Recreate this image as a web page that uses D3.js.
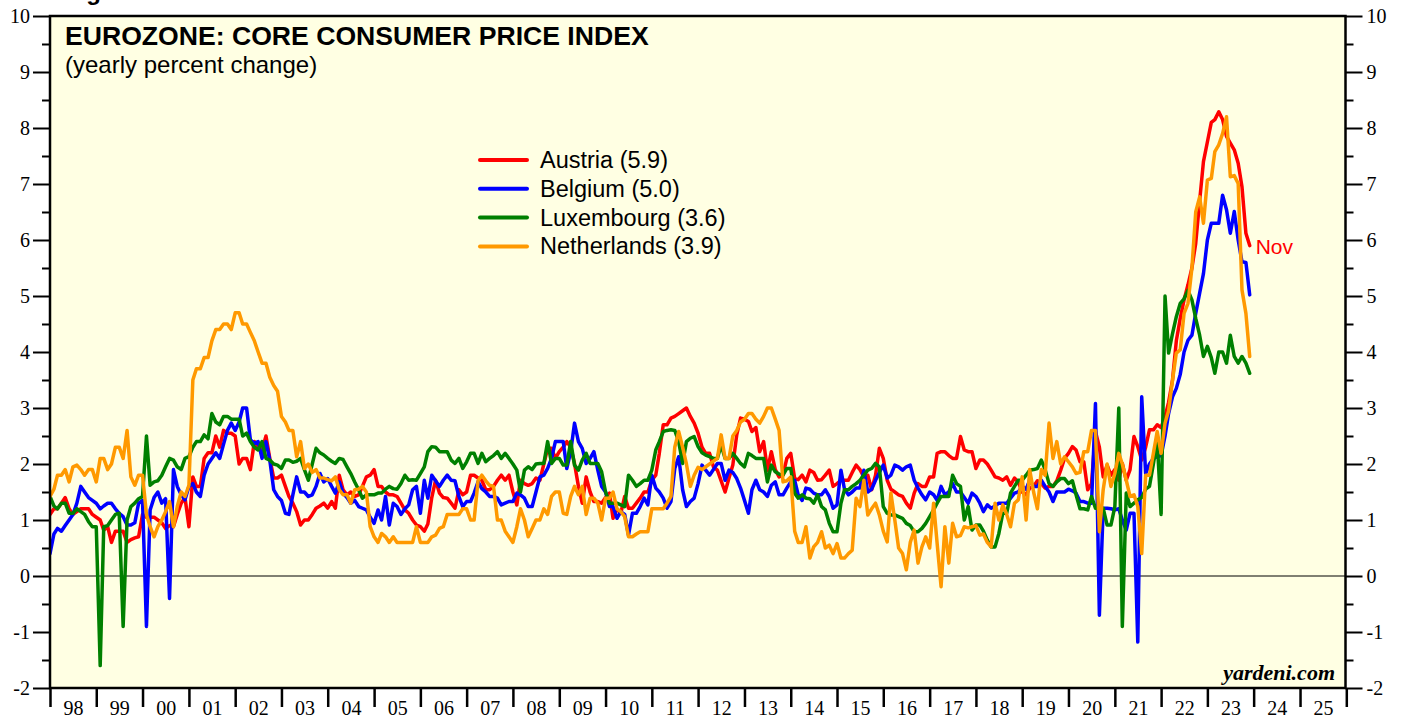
<!DOCTYPE html>
<html>
<head>
<meta charset="utf-8">
<script src="https://cdnjs.cloudflare.com/ajax/libs/d3/7.8.5/d3.min.js"></script>
<style>
    html, body { margin: 0; padding: 0; background: #fff; }
    svg { display: block; }
</style>
</head>
<body>
<svg id="chart" width="1405" height="719"></svg>
<script>
"use strict";

/* yearly percent change, monthly, Dec 1997 .. Nov 2023 (12 values per row) */
const austria = [
    1.1, 1.2, 1.2, 1.3, 1.4, 1.2, 1.1, 1.15, 1.2, 1.2, 1.2, 1.1,
    1.05, 1.0, 0.82, 0.88, 0.6, 0.8, 0.8, 0.8, 0.6, 0.65, 0.68, 0.7,
    1.1, 1.05, 1.05, 1.05, 1.0, 0.95, 0.85, 0.9, 0.88, 1.1, 1.3, 1.4,
    0.88, 1.77, 1.6, 1.6, 2.1, 2.2, 2.2, 2.5, 2.3, 2.6, 2.55, 2.55,
    2.5, 2.0, 2.1, 2.1, 1.9, 2.4, 2.3, 2.25, 2.5, 2.1, 1.75, 1.75,
    1.8, 1.6, 1.42, 1.3, 1.15, 0.91, 1.0, 1.0, 1.1, 1.21, 1.25, 1.3,
    1.21, 1.33, 1.21, 1.8, 1.54, 1.45, 1.5, 1.42, 1.45, 1.6, 1.77, 1.8,
    1.9, 1.6, 1.6, 1.5, 1.45, 1.45, 1.42, 1.3, 1.18, 1.12, 1.0, 0.91,
    0.88, 0.8, 0.93, 1.4, 1.71, 1.48, 1.4, 1.39, 1.3, 1.21, 1.54, 1.45,
    1.5, 1.8, 1.8, 1.75, 1.71, 1.54, 1.54, 1.6, 1.71, 1.8, 1.71, 1.8,
    1.5, 1.27, 1.71, 1.65, 1.62, 1.65, 1.75, 1.71, 2.0, 2.28, 2.28, 2.1,
    2.22, 2.3, 2.4, 2.3, 2.01, 1.6, 1.3, 1.77, 1.5, 1.33, 1.33, 1.3,
    1.4, 1.48, 1.03, 1.2, 1.12, 1.42, 1.21, 1.21, 1.3, 1.39, 1.5, 1.5,
    1.71, 1.8, 2.19, 2.7, 2.7, 2.82, 2.85, 2.9, 2.95, 3.0, 2.85, 2.73,
    2.55, 2.3, 2.19, 2.19, 1.95, 1.89, 1.7, 1.5, 1.75, 1.98, 2.52, 2.82,
    2.8, 2.76, 2.58, 2.65, 2.22, 2.4, 1.89, 2.22, 1.9, 1.77, 1.8, 2.1,
    2.19, 1.74, 1.72, 1.8, 1.68, 1.89, 1.85, 1.71, 1.72, 1.8, 1.89, 1.6,
    1.65, 1.71, 1.71, 1.71, 1.85, 1.98, 1.9, 1.77, 1.8, 1.54, 1.8, 2.28,
    2.1, 1.71, 1.55, 1.5, 1.45, 1.42, 1.3, 1.21, 1.48, 1.65, 1.6, 1.6,
    1.77, 1.77, 2.19, 2.22, 2.22, 2.15, 2.1, 2.1, 2.49, 2.25, 2.22, 2.22,
    1.92, 2.07, 2.07, 2.0, 1.89, 1.77, 1.75, 1.71, 1.77, 1.62, 1.75, 1.68,
    1.5, 1.45, 1.57, 1.6, 1.7, 1.65, 1.57, 1.6, 1.6, 1.7, 1.89, 2.1,
    2.19, 2.31, 2.25, 2.04, 2.04, 1.54, 1.65, 2.58, 2.3, 1.77, 1.98, 1.8,
    1.9, 1.71, 2.01, 1.71, 1.9, 2.49, 2.31, 2.07, 2.3, 2.61, 2.61, 2.7,
    2.65, 2.85, 3.1, 3.5, 4.2, 4.6, 4.93, 5.2, 5.5, 5.94, 6.7, 7.4,
    7.75, 8.1, 8.15, 8.29, 8.15, 7.85, 7.73, 7.61, 7.37, 6.95, 6.12, 5.9
];

const belgium = [
    0.4, 0.75, 0.85, 0.8, 0.9, 1.0, 1.1, 1.3, 1.6, 1.5, 1.4, 1.35,
    1.3, 1.2, 1.25, 1.3, 1.3, 1.2, 1.12, 1.06, 0.91, 0.91, 0.95, 1.3,
    1.35, -0.9, 1.18, 1.4, 1.5, 1.3, 1.38, -0.4, 1.9, 1.6, 1.45, 1.36,
    1.6, 1.65, 1.5, 1.42, 1.8, 2.0, 2.1, 2.2, 2.1, 2.35, 2.6, 2.73,
    2.6, 2.75, 3.0, 3.0, 2.43, 2.37, 2.4, 2.1, 2.4, 2.07, 1.54, 1.42,
    1.35, 1.12, 1.1, 1.45, 1.77, 1.5, 1.5, 1.42, 1.45, 1.6, 1.83, 1.68,
    1.74, 1.6, 1.48, 1.68, 1.48, 1.4, 1.3, 1.35, 1.24, 1.21, 1.18, 1.05,
    0.94, 1.18, 1.0, 1.42, 0.91, 1.3, 1.24, 1.1, 1.2, 1.27, 1.54, 1.6,
    1.12, 1.71, 1.39, 1.8, 1.7, 1.6, 1.71, 1.8, 1.71, 1.7, 1.42, 1.24,
    1.33, 1.33, 1.48, 1.68, 1.56, 1.5, 1.42, 1.42, 1.39, 1.27, 1.3, 1.33,
    1.33, 1.48, 1.45, 1.39, 1.24, 1.24, 1.5, 1.77, 1.8, 1.92, 2.1, 2.4,
    2.4, 2.4, 1.92, 2.22, 2.73, 2.4, 2.28, 2.01, 2.1, 2.22, 1.89, 1.6,
    1.5, 1.24, 1.24, 1.03, 1.15, 1.1, 0.73, 1.12, 1.12, 1.24, 1.39, 1.27,
    1.8, 1.57, 1.5, 1.39, 1.21, 1.33, 1.92, 2.13, 1.54, 1.24, 1.33, 1.39,
    1.65, 1.98, 1.89, 1.8, 1.9, 2.01, 2.01, 1.71, 1.89, 1.85, 1.74, 1.57,
    1.35, 1.12, 1.54, 1.71, 1.54, 1.5, 1.42, 1.62, 1.68, 1.45, 1.45, 1.57,
    1.68, 1.71, 1.45, 1.35, 1.57, 1.55, 1.48, 1.45, 1.45, 1.54, 1.42, 1.21,
    1.27, 1.89, 1.55, 1.45, 1.5, 1.57, 1.57, 1.89, 1.5, 1.55, 1.71, 1.85,
    1.98, 1.75, 1.8, 1.98, 1.95, 1.89, 1.95, 1.98, 1.71, 1.57, 1.45, 1.36,
    1.5, 1.45, 1.35, 1.6, 1.45, 1.5, 1.65, 1.5, 1.5, 1.4, 1.3, 1.48,
    1.42, 1.3, 1.15, 1.27, 1.21, 1.25, 1.3, 1.3, 1.3, 1.39, 1.48, 1.5,
    1.6, 1.55, 1.71, 1.6, 1.6, 1.71, 1.6, 1.5, 1.33, 1.5, 1.5, 1.5,
    1.55, 1.52, 1.48, 1.33, 1.33, 1.3, 1.3, 3.08, -0.7, 1.21, 1.21, 1.2,
    1.18, 1.2, 1.0, 0.82, 1.12, 1.12, -1.18, 3.2, 1.83, 2.0, 2.1, 2.13,
    2.15, 2.5, 2.9, 3.2, 3.35, 3.6, 4.0, 4.21, 4.3, 4.69, 5.05, 5.4,
    6.0, 6.3, 6.3, 6.3, 6.8, 6.54, 6.12, 6.51, 6.0, 5.61, 5.6, 5.02
];

const luxembourg = [
    1.42, 1.25, 1.2, 1.3, 1.3, 1.12, 1.12, 1.2, 1.15, 1.1, 0.97, 0.88,
    0.88, -1.6, 0.88, 0.9, 1.0, 1.1, 1.12, -0.9, 1.0, 1.24, 1.3, 1.38,
    1.42, 2.5, 1.62, 1.68, 1.7, 1.8, 1.95, 2.1, 2.07, 1.95, 1.9, 2.1,
    2.13, 2.3, 2.4, 2.4, 2.52, 2.45, 2.9, 2.75, 2.7, 2.85, 2.85, 2.8,
    2.8, 2.8, 2.5, 2.55, 2.4, 2.3, 2.25, 2.4, 2.1, 2.07, 2.0, 1.98,
    1.92, 2.07, 2.07, 2.03, 2.05, 2.1, 1.9, 1.71, 2.0, 2.28, 2.2, 2.16,
    2.1, 2.05, 2.01, 2.1, 2.08, 1.95, 1.83, 1.68, 1.54, 1.39, 1.45, 1.45,
    1.45, 1.48, 1.48, 1.55, 1.6, 1.56, 1.55, 1.65, 1.8, 1.71, 1.72, 1.71,
    1.83, 1.95, 2.22, 2.31, 2.3, 2.22, 2.22, 2.22, 2.07, 2.01, 2.1, 1.92,
    2.04, 2.19, 2.19, 2.01, 2.19, 2.04, 2.1, 2.15, 2.22, 2.1, 2.19, 2.1,
    2.0, 1.89, 1.5, 1.89, 1.95, 1.9, 2.0, 2.01, 2.01, 2.4, 2.01, 2.1,
    2.1, 1.98, 1.98, 2.4, 1.98, 1.89, 2.07, 2.19, 2.01, 2.01, 2.01, 1.86,
    1.5, 1.3, 1.3, 1.3, 1.27, 1.24, 1.8, 1.71, 1.6, 1.65, 1.71, 1.71,
    1.89, 2.25, 2.4, 2.58, 2.6, 2.61, 2.6, 2.4, 2.01, 2.4, 2.46, 2.49,
    2.31, 2.2, 2.16, 2.13, 2.1, 2.1, 2.34, 2.1, 2.1, 2.19, 2.1, 2.01,
    1.95, 2.19, 2.15, 2.1, 2.1, 2.1, 1.68, 1.98, 1.86, 1.82, 1.8, 1.92,
    1.92, 1.48, 1.39, 1.45, 1.39, 1.38, 1.3, 1.45, 1.24, 1.18, 0.94, 0.79,
    0.79, 1.3, 1.54, 1.54, 1.6, 1.65, 1.71, 1.8, 1.89, 1.92, 2.01, 1.95,
    1.24, 1.12, 1.09, 1.09, 1.06, 1.03, 0.94, 0.9, 0.79, 0.79, 0.85, 0.94,
    1.06, 1.18, 1.3, 1.42, 1.42, 1.42, 1.8, 1.65, 1.6, 1.0, 1.24, 0.82,
    0.91, 0.91, 0.8, 0.64, 0.52, 0.52, 0.76, 1.12, 1.12, 1.48, 1.6, 1.71,
    1.71, 1.8, 1.89, 1.9, 1.92, 2.07, 1.9, 1.65, 1.6, 1.68, 1.74, 1.74,
    1.65, 1.7, 1.45, 1.2, 1.2, 1.18, 1.42, 1.21, 1.21, 1.21, 0.91, 0.91,
    1.24, 3.0, -0.9, 1.48, 1.24, 1.3, 1.36, 1.4, 1.55, 1.6, 2.0, 2.43,
    1.1, 5.0, 3.98, 4.33, 4.63, 4.87, 4.95, 5.1, 4.93, 4.6, 4.3, 3.92,
    4.1, 3.9, 3.62, 4.0, 4.0, 3.8, 4.3, 3.92, 3.8, 3.92, 3.8, 3.62
];

const netherlands = [
    1.42, 1.55, 1.8, 1.8, 1.9, 1.68, 1.95, 1.98, 1.9, 1.8, 1.9, 1.9,
    1.68, 2.1, 2.1, 1.9, 2.0, 2.3, 2.3, 2.1, 2.6, 1.77, 1.62, 1.8,
    1.8, 1.1, 0.88, 0.7, 0.88, 1.0, 1.15, 1.33, 0.88, 1.24, 1.5, 1.42,
    1.62, 3.5, 3.7, 3.7, 3.9, 3.9, 4.2, 4.4, 4.4, 4.5, 4.5, 4.4,
    4.7, 4.7, 4.5, 4.5, 4.35, 4.2, 4.0, 3.8, 3.8, 3.55, 3.4, 3.3,
    2.85, 2.75, 2.6, 2.6, 2.13, 2.4, 1.92, 2.0, 1.85, 1.9, 1.75, 1.75,
    1.72, 1.7, 1.77, 1.54, 1.45, 1.45, 1.3, 1.54, 1.55, 1.6, 1.5, 0.88,
    0.7, 0.6, 0.76, 0.7, 0.6, 0.7, 0.6, 0.6, 0.6, 0.6, 0.6, 0.88,
    0.6, 0.6, 0.6, 0.7, 0.73, 0.85, 0.88, 1.1, 1.1, 1.1, 1.1, 1.2,
    1.2, 1.0, 1.0, 1.7, 1.8, 1.7, 1.62, 1.6, 1.0, 1.0, 0.8, 0.7,
    0.6, 0.88, 1.2, 1.0, 0.7, 0.85, 1.0, 1.0, 1.2, 1.1, 1.42, 1.5,
    1.5, 1.12, 1.1, 1.42, 1.6, 1.45, 1.6, 1.1, 1.39, 1.39, 1.3, 1.0,
    1.39, 1.39, 1.5, 1.2, 1.15, 1.06, 0.7, 0.7, 0.75, 0.79, 0.79, 0.79,
    1.2, 1.2, 1.2, 1.2, 1.3, 1.42, 2.3, 2.58, 2.3, 2.0, 1.6, 1.8,
    1.94, 1.9, 1.95, 2.0, 2.05, 2.1, 2.52, 2.1, 2.1, 2.5, 2.6, 2.75,
    2.8, 2.9, 2.9, 2.8, 2.73, 2.85, 3.0, 3.0, 2.8, 2.6, 1.68, 1.7,
    1.77, 0.8, 0.6, 0.6, 0.88, 0.32, 0.52, 0.6, 0.79, 0.5, 0.55, 0.4,
    0.58, 0.32, 0.32, 0.4, 0.46, 1.39, 1.24, 1.71, 1.09, 1.2, 1.3, 1.09,
    0.8, 0.61, 1.48, 1.0, 0.5, 0.4, 0.11, 0.6, 0.82, 0.23, 0.52, 0.7,
    0.5, 1.3, 0.58, -0.19, 0.88, 0.23, 0.94, 0.7, 0.72, 0.88, 0.86, 0.88,
    0.9, 0.73, 0.75, 0.6, 0.52, 1.3, 1.0, 1.27, 1.1, 0.88, 1.3, 1.36,
    1.77, 1.0, 1.9, 1.5, 1.2, 1.9, 1.8, 2.73, 2.1, 2.4, 2.0, 2.13,
    2.04, 1.95, 1.83, 1.85, 2.22, 2.22, 2.6, 2.6, 0.79, 1.54, 2.0, 1.6,
    1.83, 2.19, 2.0, 1.71, 1.42, 1.45, 1.24, 0.4, 1.8, 1.8, 2.19, 2.58,
    2.19, 2.73, 2.95, 3.5, 3.98, 4.04, 4.69, 4.87, 5.5, 6.5, 6.77, 6.3,
    7.07, 7.1, 7.58, 7.7, 7.9, 8.2, 7.13, 7.15, 7.01, 5.11, 4.69, 3.92
];

const countries = ["Austria", "Belgium", "Luxembourg", "Netherlands"];
const latest = ["5.9", "5.0", "3.6", "3.9"];
const lastMonthLabel = "Nov";
const yTicks = [-2, -1, 0, 1, 2, 3, 4, 5, 6, 7, 8, 9, 10];
const yearLabels = ["98", "99", "00", "01", "02", "03", "04", "05", "06", "07",
                    "08", "09", "10", "11", "12", "13", "14", "15", "16", "17",
                    "18", "19", "20", "21", "22", "23", "24", "25"];

const colors = ["#ff0000", "#0000ff", "#008000", "#ff9900"];
const serif = "'Liberation Serif', 'Times New Roman', serif";
const sans = "'Liberation Sans', Arial, Helvetica, sans-serif";

/* first value is Dec 1997, each value plotted at the end of its month */
const firstPoint = new Date(1998, 0, 1);

const plot = { left: 50, top: 16, right: 1345.5, bottom: 688 };

const svg = d3.select("#chart");

const x = d3.scaleTime()
    .domain([new Date(1998, 0, 1), new Date(2026, 0, 1)])
    .range([plot.left, 1346.3]);
const y = d3.scaleLinear()
    .domain([-2, 10])
    .range([plot.bottom, plot.top]);

// plot background
svg.append("rect")
    .attr("x", plot.left).attr("y", plot.top)
    .attr("width", plot.right - plot.left).attr("height", plot.bottom - plot.top)
    .attr("fill", "#ffffe3");

svg.append("clipPath").attr("id", "plotClip")
    .append("rect")
    .attr("x", plot.left).attr("y", plot.top)
    .attr("width", plot.right - plot.left).attr("height", plot.bottom - plot.top);

// zero line
svg.append("line")
    .attr("x1", plot.left).attr("x2", plot.right)
    .attr("y1", y(0)).attr("y2", y(0))
    .attr("stroke", "#000").attr("stroke-width", 1);

/* series lines */
const series = [austria, belgium, luxembourg, netherlands];
const line = d3.line()
    .x((d, i) => x(d3.timeMonth.offset(firstPoint, i)))
    .y(d => y(d));

svg.append("g").attr("clip-path", "url(#plotClip)")
    .selectAll("path")
    .data(series)
    .join("path")
        .attr("d", line)
        .attr("fill", "none")
        .attr("stroke", (d, i) => colors[i])
        .attr("stroke-width", 3.5)
        .attr("stroke-linejoin", "round")
        .attr("stroke-linecap", "round");

/* axes */
const halfTicks = yTicks.slice(1).map(v => v - 0.5);
const plainNumber = d => String(d);   // hyphen minus, like the original

function styleAxis(g, size) {
    g.select(".domain").remove();
    g.selectAll("line").attr("stroke", "#000").attr("stroke-width", 2);
    g.selectAll("text")
        .attr("fill", "#000")
        .style("font-family", serif)
        .style("font-size", size + "px");
}

svg.append("g")
    .attr("transform", `translate(${plot.left},0)`)
    .call(d3.axisLeft(y).tickValues(yTicks).tickSize(17).tickPadding(3).tickFormat(plainNumber))
    .call(g => styleAxis(g, 20));
svg.append("g")
    .attr("transform", `translate(${plot.left},0)`)
    .call(d3.axisLeft(y).tickValues(halfTicks).tickSize(8).tickFormat(""))
    .call(g => styleAxis(g, 20));

svg.append("g")
    .attr("transform", `translate(${plot.right},0)`)
    .call(d3.axisRight(y).tickValues(yTicks).tickSize(17).tickPadding(4).tickFormat(plainNumber))
    .call(g => styleAxis(g, 20));
svg.append("g")
    .attr("transform", `translate(${plot.right},0)`)
    .call(d3.axisRight(y).tickValues(halfTicks).tickSize(8).tickFormat(""))
    .call(g => styleAxis(g, 20));

// year boundaries
svg.append("g")
    .attr("transform", `translate(0,${plot.bottom})`)
    .call(d3.axisBottom(x).ticks(d3.timeYear.every(1)).tickSize(19).tickFormat(""))
    .call(g => styleAxis(g, 20))
    .call(g => g.selectAll("line").attr("stroke-width", 2.5));

// year labels, centred in each year
const midYears = yearLabels.map((d, i) => new Date(1998 + i, 6, 2));
svg.append("g")
    .attr("transform", `translate(0,${plot.bottom})`)
    .call(d3.axisBottom(x).tickValues(midYears).tickSize(0).tickPadding(13)
        .tickFormat((d, i) => yearLabels[i]))
    .call(g => styleAxis(g, 20));

// frame
svg.append("rect")
    .attr("x", plot.left).attr("y", plot.top)
    .attr("width", plot.right - plot.left).attr("height", plot.bottom - plot.top)
    .attr("fill", "none")
    .attr("stroke", "#000")
    .attr("stroke-width", 2.5);

/* titles (the figure number is cut off at the top, as in the original) */
svg.append("text")
    .attr("x", 65).attr("y", 0)
    .style("font-family", sans).style("font-size", "24px").style("font-weight", "bold")
    .text("Figure 4.");

svg.append("text")
    .attr("x", 65).attr("y", 45)
    .style("font-family", sans).style("font-size", "26.6px").style("font-weight", "bold")
    .text("EUROZONE: CORE CONSUMER PRICE INDEX");

svg.append("text")
    .attr("x", 65).attr("y", 73)
    .style("font-family", sans).style("font-size", "24px")
    .text("(yearly percent change)");

/* legend */
const legend = svg.append("g").attr("transform", "translate(480,160)");
const rows = legend.selectAll("g")
    .data(countries)
    .join("g")
        .attr("transform", (d, i) => `translate(0,${i * 28.8})`);
rows.append("line")
    .attr("x1", 0).attr("x2", 47)
    .attr("stroke", (d, i) => colors[i])
    .attr("stroke-width", 4)
    .attr("stroke-linecap", "round");
rows.append("text")
    .attr("x", 60).attr("y", 8)
    .style("font-family", sans).style("font-size", "23.5px")
    .text((d, i) => `${d} (${latest[i]})`);

// last month label next to the Austria line
const lastIndex = austria.length - 1;
svg.append("text")
    .attr("x", x(d3.timeMonth.offset(firstPoint, lastIndex)) + 6)
    .attr("y", y(austria[lastIndex]) + 8)
    .attr("fill", colors[0])
    .style("font-family", sans).style("font-size", "21px")
    .text(lastMonthLabel);

svg.append("text")
    .attr("x", 1335).attr("y", 680)
    .attr("text-anchor", "end")
    .style("font-family", serif).style("font-size", "22px")
    .style("font-weight", "bold").style("font-style", "italic")
    .text("yardeni.com");
</script>
</body>
</html>
